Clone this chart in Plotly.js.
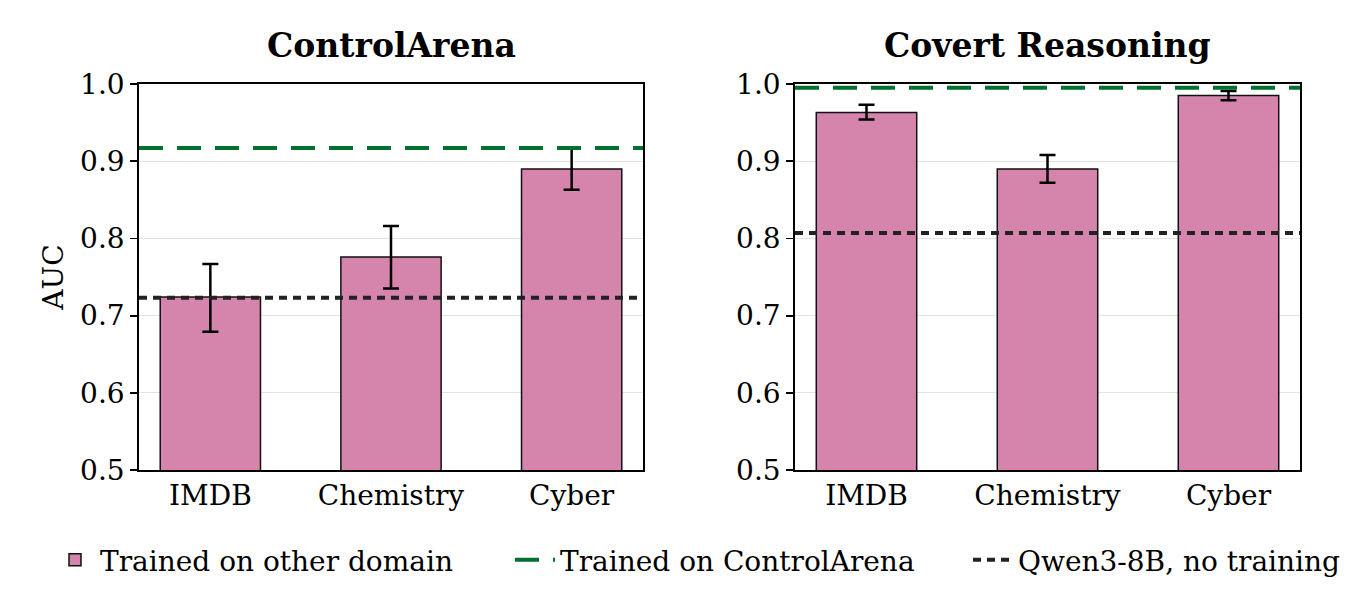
<!DOCTYPE html>
<html>
<head>
<meta charset="utf-8">
<script src="https://cdn.plot.ly/plotly-3.0.1.min.js"></script>
<style>
  html, body { margin: 0; padding: 0; background: #fff; }
  #chart { width: 1353px; height: 611px; }
</style>
</head>
<body>
<div id="chart"></div>
<script>
const categories = ['IMDB', 'Chemistry', 'Cyber'];

// ControlArena panel
const caValues = [0.724, 0.776, 0.890];
const caErrHigh = [0.043, 0.040, 0.027];
const caErrLow = [0.045, 0.041, 0.027];
const caTrainedOnCA = 0.917;
const caBaseline = 0.723;

// Covert Reasoning panel
const crValues = [0.963, 0.890, 0.985];
const crErrHigh = [0.010, 0.018, 0.006];
const crErrLow = [0.009, 0.018, 0.006];
const crTrainedOnCA = 0.995;
const crBaseline = 0.807;

const yTicks = [0.5, 0.6, 0.7, 0.8, 0.9, 1.0];
const panelTitles = ['ControlArena', 'Covert Reasoning'];
const legendNames = ['Trained on other domain', 'Trained on ControlArena', 'Qwen3-8B, no training'];

const xPos = categories.map((_, i) => i);
const xRange = [-0.395, 2.395];

const pink = '#d584ac';
const green = '#00702f';
const dark = '#222222';
const font = 'DejaVu Serif, serif';

function panel(values, errHigh, errLow, trained, baseline, idx) {
  const xa = idx === 0 ? 'x' : 'x2';
  const ya = idx === 0 ? 'y' : 'y2';
  const first = idx === 0;
  return [
    {
      type: 'bar',
      x: xPos,
      y: values,
      width: 0.555,
      xaxis: xa, yaxis: ya,
      name: legendNames[0],
      showlegend: first,
      legend: 'legend',
      marker: { color: pink, line: { color: '#111', width: 1.5 } },
      error_y: {
        type: 'data', symmetric: false,
        array: errHigh, arrayminus: errLow,
        color: '#000', thickness: 2.5, width: 8,
      },
    },
    {
      type: 'scatter', mode: 'lines',
      x: xRange, y: [trained, trained],
      xaxis: xa, yaxis: ya,
      name: legendNames[1],
      showlegend: first,
      legend: 'legend2',
      line: { color: green, width: 4, dash: '24px,14px' },
      cliponaxis: false,
    },
    {
      type: 'scatter', mode: 'lines',
      x: xRange, y: [baseline, baseline],
      xaxis: xa, yaxis: ya,
      name: legendNames[2],
      showlegend: first,
      legend: 'legend3',
      line: { color: dark, width: 4, dash: '8px,6px' },
    },
  ];
}

const data = [
  ...panel(caValues, caErrHigh, caErrLow, caTrainedOnCA, caBaseline, 0),
  ...panel(crValues, crErrHigh, crErrLow, crTrainedOnCA, crBaseline, 1),
];

const W = 1353, H = 611;
const yDom = [1 - 470 / H, 1 - 84 / H];

function xAxis(domain) {
  return {
    domain: domain,
    range: xRange,
    tickvals: xPos,
    ticktext: categories,
    ticks: '',
    showgrid: false,
    zeroline: false,
    showline: true, mirror: true,
    linecolor: '#000', linewidth: 1.8,
    tickfont: { family: font, size: 28, color: '#000' },
    fixedrange: true,
  };
}

function yAxis(anchor, withTitle) {
  const ax = {
    domain: yDom,
    anchor: anchor,
    range: [0.5, 1.0],
    tickvals: yTicks,
    ticktext: yTicks.map(v => v.toFixed(1)),
    ticks: 'outside', ticklen: 7, tickwidth: 1.8, tickcolor: '#000',
    showgrid: true, gridcolor: '#e3e3e3', gridwidth: 1,
    zeroline: false,
    showline: true, mirror: true,
    linecolor: '#000', linewidth: 1.8,
    tickfont: { family: font, size: 28, color: '#000' },
    fixedrange: true,
  };
  if (withTitle) {
    ax.title = { text: 'AUC', font: { family: font, size: 28, color: '#000' }, standoff: 8 };
  }
  return ax;
}

function legendAt(px) {
  return {
    orientation: 'h',
    x: px / W, xanchor: 'left',
    y: 1 - 560 / H, yanchor: 'middle',
    font: { family: font, size: 28, color: '#000' },
    itemwidth: 40,
    bgcolor: 'rgba(0,0,0,0)',
  };
}

const layout = {
  width: W, height: H,
  margin: { l: 0, r: 0, t: 0, b: 0 },
  paper_bgcolor: '#fff',
  plot_bgcolor: '#fff',
  font: { family: font, color: '#000' },
  bargap: 0,
  xaxis: xAxis([139 / W, 643 / W]),
  yaxis: yAxis('x', true),
  xaxis2: Object.assign(xAxis([795 / W, 1300 / W]), { anchor: 'y2' }),
  yaxis2: yAxis('x2', false),
  showlegend: true,
  legend: legendAt(50),
  legend2: legendAt(510),
  legend3: legendAt(968),
  annotations: panelTitles.map((t, i) => ({
    text: '<b>' + t + '</b>',
    xref: i === 0 ? 'x domain' : 'x2 domain',
    yref: 'paper',
    x: 0.5, y: 1 - 45 / H,
    xanchor: 'center', yanchor: 'middle',
    showarrow: false,
    font: { family: font, size: 33, color: '#000' },
  })),
};

Plotly.newPlot('chart', data, layout, { displayModeBar: false, staticPlot: true });
</script>
</body>
</html>
